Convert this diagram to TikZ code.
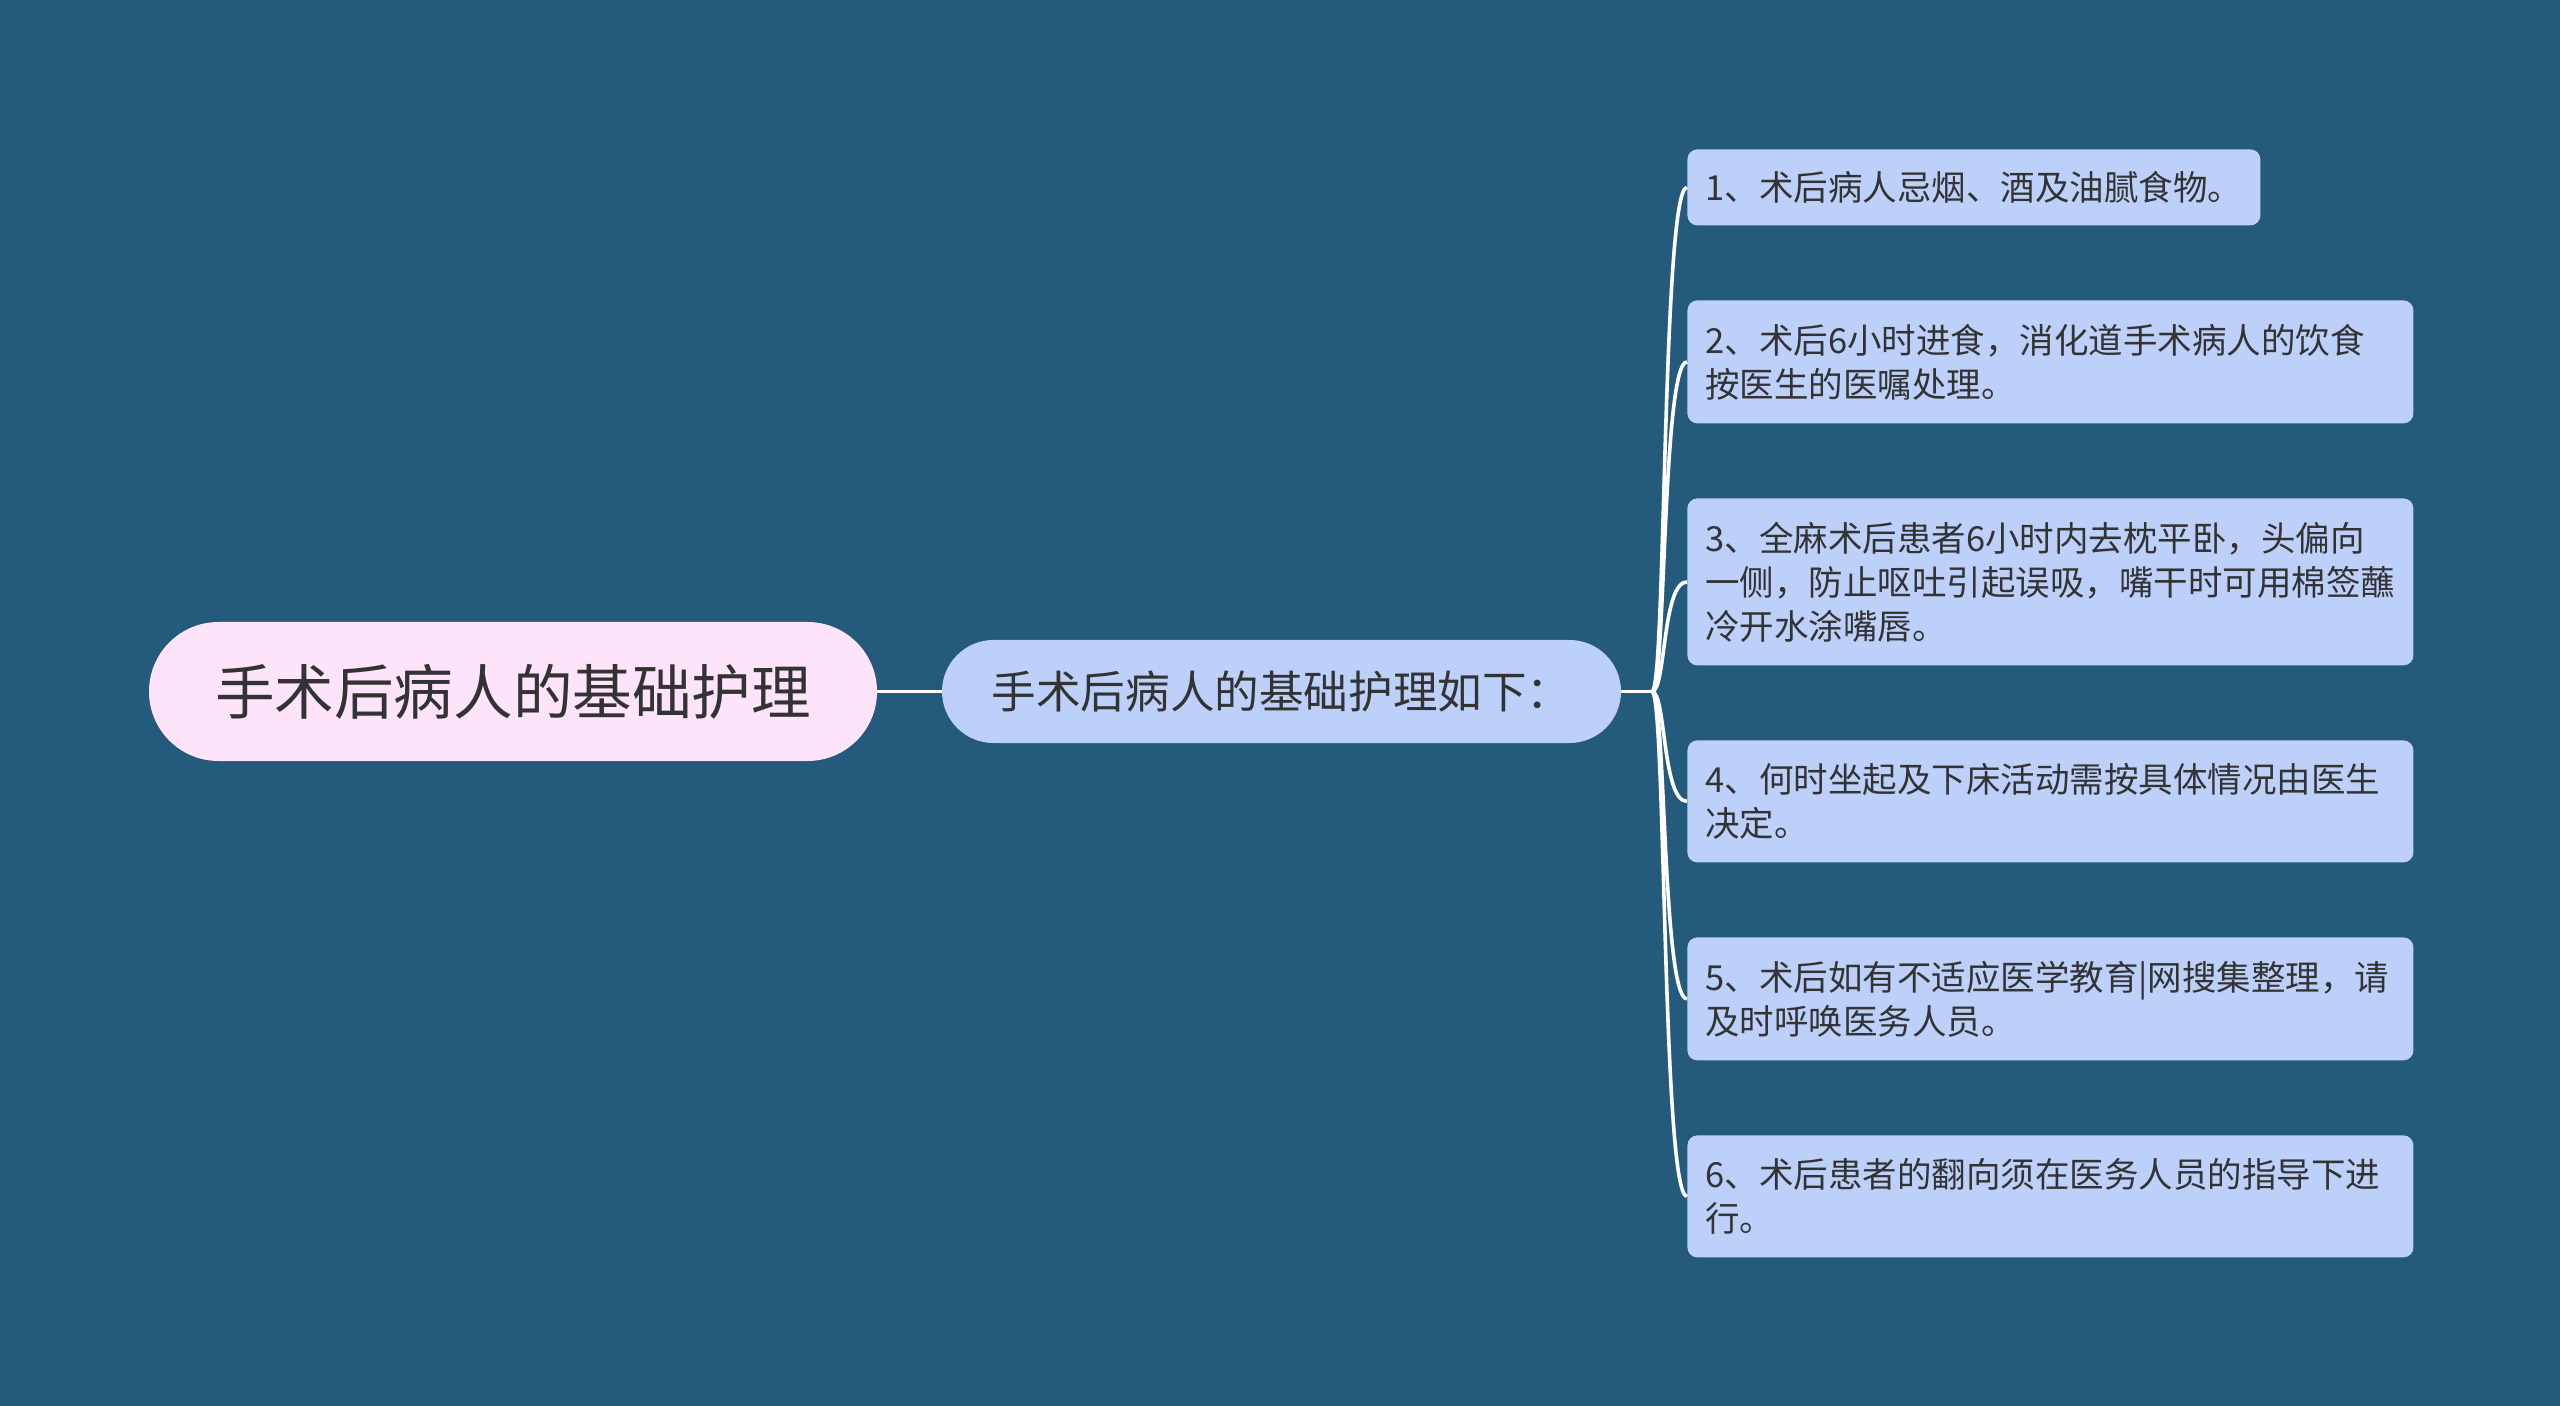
\documentclass[tikz,border=0pt]{standalone}
\usepackage{fontspec}
\setmainfont{Noto Sans CJK SC}
\usetikzlibrary{shapes.misc,calc}
\definecolor{bg}{HTML}{245A7C}
\definecolor{rootfill}{HTML}{FDE4FB}
\definecolor{leaffill}{HTML}{BCD0FA}
\definecolor{txt}{HTML}{333333}
\begin{document}
\begin{tikzpicture}[x=0.5pt,y=-0.5pt,
  rootbox/.style={rounded rectangle, fill=rootfill, text=txt, inner sep=0pt,
    minimum width=364pt, minimum height=69.5pt, font=\fontsize{29.8}{34}\selectfont},
  midbox/.style={rounded rectangle, fill=leaffill, text=txt, inner sep=0pt,
    minimum width=339.5pt, minimum height=51.5pt, font=\fontsize{22.3}{26}\selectfont},
  leafbox/.style={rectangle, rounded corners=5pt, fill=leaffill, text=txt,
    anchor=north west, inner xsep=9pt, inner ysep=0pt, align=left,
    text width=345pt, font=\fontsize{17.25}{22}\selectfont},
  conn/.style={draw=white, line width=1.8pt}
]
\fill[bg] (0,0) rectangle (2560,1406);
\useasboundingbox (0,0) rectangle (2560,1406);

\node[rootbox] (root) at (513,691.5) {手术后病人的基础护理};
\node[midbox] (mid) at (1281.5,691.5) {手术后病人的基础护理如下：};

\node[leafbox, text width=268.5pt, minimum height=38pt] (l1) at (1687,149) {1、术后病人忌烟、酒及油腻食物。};
\node[leafbox, minimum height=61.5pt] (l2) at (1687,300) {2、术后6小时进食，消化道手术病人的饮食\\按医生的医嘱处理。};
\node[leafbox, minimum height=83.5pt] (l3) at (1687,498) {3、全麻术后患者6小时内去枕平卧，头偏向\\一侧，防止呕吐引起误吸，嘴干时可用棉签蘸\\冷开水涂嘴唇。};
\node[leafbox, minimum height=61pt] (l4) at (1687,740) {4、何时坐起及下床活动需按具体情况由医生\\决定。};
\node[leafbox, minimum height=61.5pt] (l5) at (1687,937) {5、术后如有不适应医学教育|网搜集整理，请\\及时呼唤医务人员。};
\node[leafbox, minimum height=61pt] (l6) at (1687,1135) {6、术后患者的翻向须在医务人员的指导下进\\行。};

\coordinate (fork) at (1652,691.5);
\draw[conn] (root.east) -- (mid.west);
\draw[conn] (mid.east) -- (fork);
\foreach \n in {l1,l2,l3,l4,l5,l6}{
  \draw[conn] (fork) .. controls ($(fork)+(14,0)$) and ($(\n.west)+(-25,0)$) .. (\n.west);
}
\end{tikzpicture}
\end{document}
